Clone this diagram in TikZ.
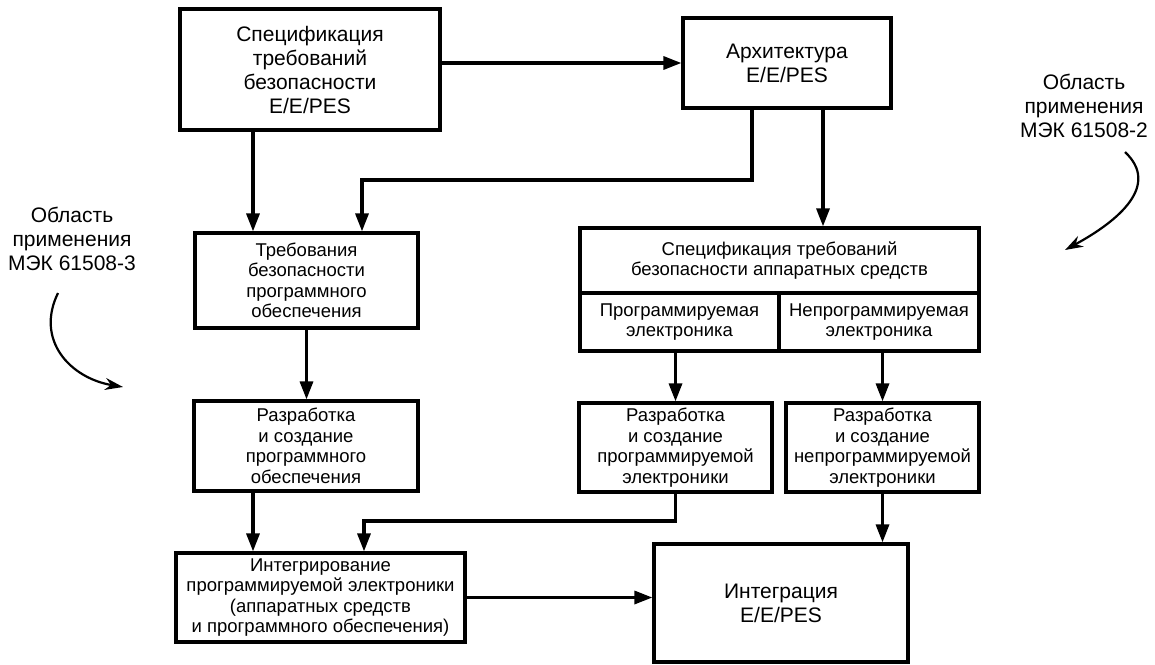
\documentclass[tikz,border=0pt]{standalone}
\usepackage{fontspec}
\setmainfont{Liberation Sans}
\usetikzlibrary{arrows.meta}
\newcommand{\fntbig}{\fontsize{21}{24}\selectfont}
\newcommand{\fntsmall}{\fontsize{18.5}{20.5}\selectfont}
\tikzset{
  blk/.style = {rectangle, draw=black, align=center, inner sep=0pt,
    line width=3.2pt, font=\fntsmall},% блок, мелкий шрифт
  blk_b/.style = {blk, font=\fntbig},% блок, крупный шрифт
  area/.style = {align=center, inner sep=0pt, font=\fntbig},% область применения
  curve_arr/.style = {line width=2.2pt, -{Stealth[length=18pt,width=12pt]}}% кривая стрелка
}
\begin{document}
\begin{tikzpicture}[x=1pt,y=-1pt,->,>={Triangle[length=18pt,width=13pt]},
  line width=3.2pt]
\useasboundingbox (0,0) rectangle (1155,664);
% блоки
\node [blk_b, minimum width=260pt, minimum height=121pt] (spec) at (310,69.5)
  {Спецификация\\требований\\безопасности\\E/E/PES};
\node [blk_b, minimum width=208pt, minimum height=90pt] (arch) at (787,63)
  {Архитектура\\E/E/PES};
\node [blk, minimum width=223pt, minimum height=95pt] (req) at (306.5,280.5)
  {Требования\\безопасности\\программного\\обеспечения};
\node [blk, minimum width=399pt, minimum height=65pt] (hw_top) at (779.5,260.5)
  {Спецификация требований\\безопасности аппаратных средств};
\node [blk, minimum width=199pt, minimum height=58pt] (hw_pe) at (679.5,322)
  {Программируемая\\электроника};
\node [blk, minimum width=200pt, minimum height=58pt] (hw_npe) at (879,322)
  {Непрограммируемая\\электроника};
\node [blk, minimum width=224pt, minimum height=90pt] (dev_sw) at (306,446)
  {Разработка\\и создание\\программного\\обеспечения};
\node [blk, minimum width=193pt, minimum height=89pt] (dev_pe) at (675.5,447.5)
  {Разработка\\и создание\\программируемой\\электроники};
\node [blk, minimum width=193pt, minimum height=89pt] (dev_npe) at (882.5,447.5)
  {Разработка\\и создание\\непрограммируемой\\электроники};
\node [blk, minimum width=289pt, minimum height=89pt] (int_pe) at (320.5,597.5)
  {Интегрирование\\программируемой электроники\\(аппаратных средств\\и программного обеспечения)};
\node [blk_b, minimum width=254pt, minimum height=118pt] (int_ee) at (781,603)
  {Интеграция\\E/E/PES};
\node [area] (lbl_3) at (72,239) {Область\\применения\\МЭК 61508-3};
\node [area] (lbl_2) at (1084,106) {Область\\применения\\МЭК 61508-2};
% точки изломов
\coordinate (x_a) at (253,0);
\coordinate (x_b) at (823,0);
\coordinate (k_a0) at (752,180);
\coordinate (k_a1) at (362,180);
\coordinate (k_p1) at (364,521);
% связи
\draw (spec.east |- arch.west) -- (arch.west);
\draw (spec.south -| x_a) -- (req.north -| x_a);
\draw (arch.south -| k_a0) -- (k_a0) -- (k_a1) -- (k_a1 |- req.north);
\draw (arch.south -| x_b) -- (hw_top.north -| x_b);
\draw (req.south) -- (req.south |- dev_sw.north);
\draw (hw_pe.south -| dev_pe.north) -- (dev_pe.north);
\draw (hw_npe.south -| dev_npe.north) -- (dev_npe.north);
\draw (dev_sw.south -| x_a) -- (int_pe.north -| x_a);
\draw (dev_pe.south) -- (dev_pe.south |- k_p1) -- (k_p1) -- (k_p1 |- int_pe.north);
\draw (dev_npe.south) -- (dev_npe.south |- int_ee.north);
\draw (int_pe.east) -- (int_pe.east -| int_ee.west);
% кривые стрелки
\coordinate (c3_s) at (58,293);
\coordinate (c3_e) at (123,387);
\coordinate (c2_s) at (1125,152);
\coordinate (c2_e) at (1065,250);
\draw [curve_arr] (c3_s) .. controls (35,340) and (70,378) .. (c3_e);
\draw [curve_arr] (c2_s) .. controls (1160,185) and (1120,220) .. (c2_e);
\end{tikzpicture}
\end{document}
